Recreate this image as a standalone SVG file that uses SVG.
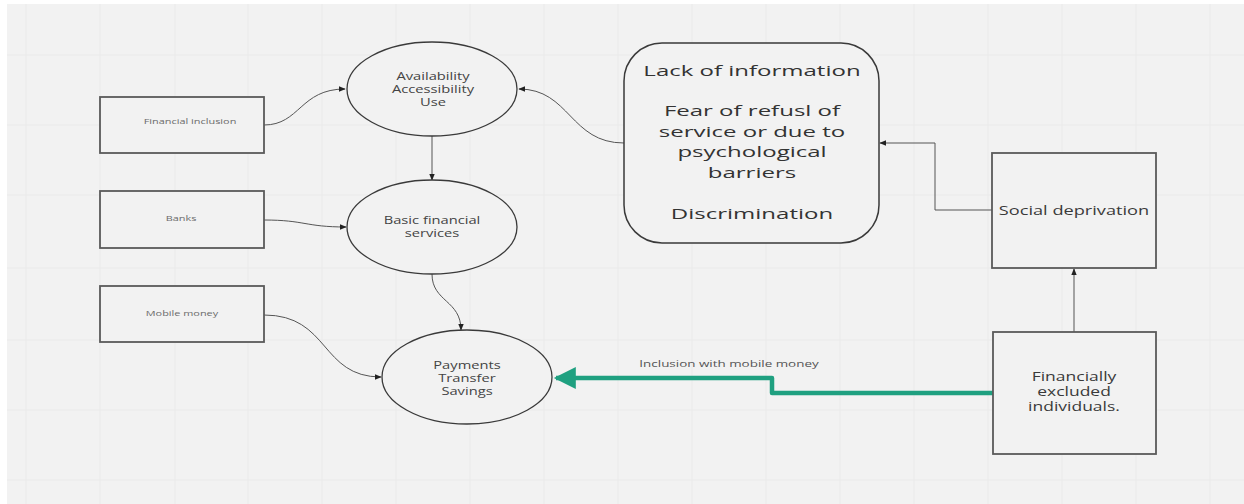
<svg xmlns="http://www.w3.org/2000/svg" width="1244" height="504" viewBox="0 0 1244 504">
  <style>
    .bg { fill: #f2f2f2; }
    .grid { stroke: #eaeaea; stroke-width: 1; fill: none; }
    .box { fill: #f2f2f2; stroke: #5a5a5a; stroke-width: 1.8; }
    .ell { fill: #f2f2f2; stroke: #3a3a3a; stroke-width: 1.3; }
    .conn { fill: none; stroke: #555; stroke-width: 1; }
    .green { fill: none; stroke: #1fa080; stroke-width: 4.5; stroke-linejoin: round; }
    text { font-family: "Open Sans", "Liberation Sans", sans-serif; text-anchor: middle; }
    .tiny { font-size: 7.8px; fill: #6a6a6a; }
    .mid { font-size: 10.5px; fill: #444; }
    .side { font-size: 12.5px; fill: #3a3a3a; }
    .big { font-size: 15px; fill: #333; }
    .lbl { font-size: 9.6px; fill: #555; }
  </style>
  <defs>
    <marker id="ah" viewBox="0 0 10 10" refX="9" refY="5" markerWidth="7" markerHeight="7" markerUnits="userSpaceOnUse" orient="auto">
      <path d="M0,1 L10,5 L0,9 Z" fill="#222"/>
    </marker>
    <marker id="gah" viewBox="0 0 10 10" refX="9" refY="5" markerWidth="30" markerHeight="22" markerUnits="userSpaceOnUse" orient="auto">
      <path d="M0,0 L10,5 L0,10 Z" fill="#1fa080"/>
    </marker>
  </defs>

  <rect x="0" y="0" width="1244" height="504" fill="#ffffff"/>
  <rect class="bg" x="7" y="4" width="1237" height="500"/>
  <g id="grid">
    <path class="grid" d="M26,4 V504 M100,4 V504 M175,4 V504 M248,4 V504 M322,4 V504 M396,4 V504 M470,4 V504 M544,4 V504 M618,4 V504 M692,4 V504 M766,4 V504 M840,4 V504 M914,4 V504 M988,4 V504 M1062,4 V504 M1136,4 V504 M1210,4 V504"/>
    <path class="grid" d="M7,55 H1244 M7,125 H1244 M7,195 H1244 M7,268 H1244 M7,340 H1244 M7,410 H1244 M7,480 H1244"/>
  </g>

  <g id="connectors">
    <path class="conn" d="M264,125 C300,125 300,89 345,89" marker-end="url(#ah)"/>
    <path class="conn" d="M432,136 L432,180" marker-end="url(#ah)"/>
    <path class="conn" d="M264,220 C305,220 305,227 346,227" marker-end="url(#ah)"/>
    <path class="conn" d="M432,274 C432,302 461,300 461,330" marker-end="url(#ah)"/>
    <path class="conn" d="M264,315 C330,315 320,377 381,377" marker-end="url(#ah)"/>
    <path class="conn" d="M624,143 C570,143 570,89 519,89" marker-end="url(#ah)"/>
    <path class="conn" d="M992,210 L935,210 L935,143 L880,143" marker-end="url(#ah)"/>
    <path class="conn" d="M1074,332 L1074,269" marker-end="url(#ah)"/>
    <path class="green" d="M993,393 L772,393 L772,378 L556,378" marker-end="url(#gah)"/>
    <g transform="translate(729,0) scale(1.4,1)"><text class="lbl" x="0" y="367">Inclusion with mobile money</text></g>
  </g>

  <g id="financial-inclusion">
    <rect class="box" x="100" y="97" width="164" height="56"/>
    <g transform="translate(190,0) scale(1.4,1)"><text class="tiny" x="0" y="124">Financial inclusion</text></g>
  </g>
  <g id="banks">
    <rect class="box" x="100" y="191" width="164" height="57"/>
    <g transform="translate(181,0) scale(1.4,1)"><text class="tiny" x="0" y="221">Banks</text></g>
  </g>
  <g id="mobile-money">
    <rect class="box" x="100" y="286" width="164" height="56"/>
    <g transform="translate(182,0) scale(1.4,1)"><text class="tiny" x="0" y="316">Mobile money</text></g>
  </g>

  <g id="availability">
    <ellipse class="ell" cx="432" cy="89" rx="85" ry="47"/>
    <g transform="translate(433,0) scale(1.4,1)">
      <text class="mid" x="0" y="80">Availability</text>
      <text class="mid" x="0" y="93">Accessibility</text>
      <text class="mid" x="0" y="106">Use</text>
    </g>
  </g>
  <g id="basic-financial-services">
    <ellipse class="ell" cx="432" cy="227" rx="85" ry="47"/>
    <g transform="translate(432,0) scale(1.4,1)">
      <text class="mid" x="0" y="224">Basic financial</text>
      <text class="mid" x="0" y="237">services</text>
    </g>
  </g>
  <g id="payments">
    <ellipse class="ell" cx="467" cy="377" rx="85" ry="47"/>
    <g transform="translate(467,0) scale(1.4,1)">
      <text class="mid" x="0" y="369">Payments</text>
      <text class="mid" x="0" y="382">Transfer</text>
      <text class="mid" x="0" y="395">Savings</text>
    </g>
  </g>

  <g id="barriers">
    <rect class="ell" x="624" y="43" width="255" height="200" rx="38" ry="38" style="stroke-width:1.5"/>
    <g transform="translate(752,0) scale(1.6,1)">
      <text class="big" x="0" y="76">Lack of information</text>
      <text class="big" x="0" y="116">Fear of refusl of</text>
      <text class="big" x="0" y="137">service or due to</text>
      <text class="big" x="0" y="157">psychological</text>
      <text class="big" x="0" y="178">barriers</text>
      <text class="big" x="0" y="219">Discrimination</text>
    </g>
  </g>

  <g id="social-deprivation">
    <rect class="box" x="992" y="153" width="164" height="115"/>
    <g transform="translate(1074,0) scale(1.4,1)"><text class="side" x="0" y="215" style="font-size:13px">Social deprivation</text></g>
  </g>
  <g id="financially-excluded">
    <rect class="box" x="993" y="332" width="163" height="122"/>
    <g transform="translate(1074,0) scale(1.4,1)">
      <text class="side" x="0" y="381">Financially</text>
      <text class="side" x="0" y="396">excluded</text>
      <text class="side" x="0" y="411">individuals.</text>
    </g>
  </g>
</svg>
